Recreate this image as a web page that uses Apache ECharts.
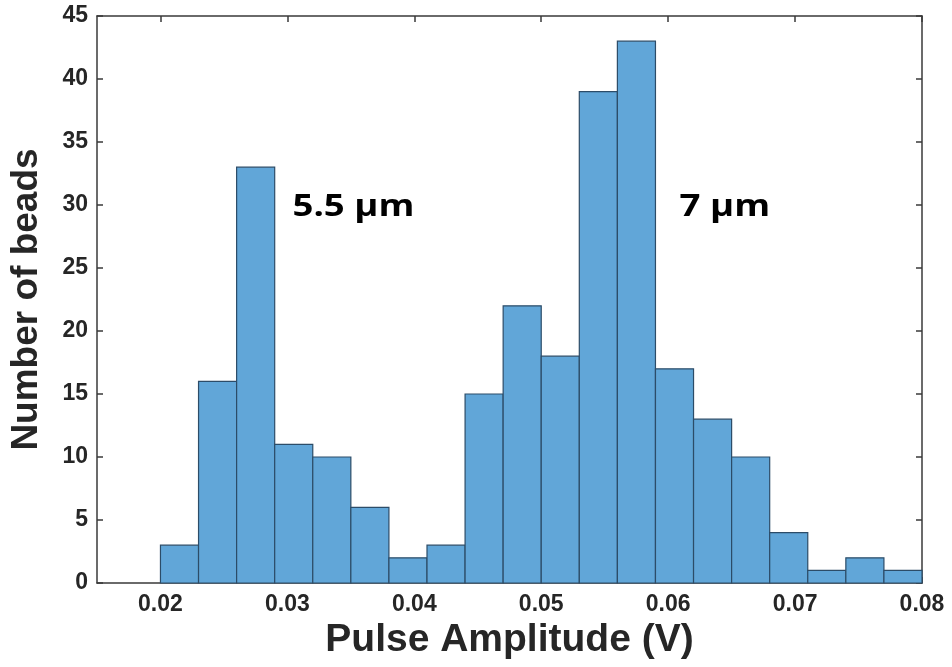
<!DOCTYPE html>
<html>
<head>
<meta charset="utf-8">
<script src="https://cdn.jsdelivr.net/npm/echarts@6/dist/echarts.min.js"></script>
<style>
html,body{margin:0;padding:0;background:#fff;}
#chart{width:952px;height:667px;}
</style>
</head>
<body>
<div id="chart"></div>
<script>
// Histogram bin edges (V) and counts
var binEdges = [0.020,0.023,0.026,0.029,0.032,0.035,0.038,0.041,0.044,0.047,0.050,
                0.053,0.056,0.059,0.062,0.065,0.068,0.071,0.074,0.077,0.080];
var counts = [3,16,33,11,10,6,2,3,15,22,18,39,43,17,13,10,4,1,2,1];
var xTicks = [0.02,0.03,0.04,0.05,0.06,0.07,0.08];
var yTicks = [0,5,10,15,20,25,30,35,40,45];
var xTitle = 'Pulse Amplitude (V)';
var yTitle = 'Number of beads';
var annotations = [
  {text:'5.5 µm', x:0.0304, y:29.8},
  {text:'7 µm', x:0.0609, y:29.8}
];

var barData = counts.map(function(c,i){ return [binEdges[i], binEdges[i+1], c]; });

var axisColor = '#3a3a3a';
var labelFont = {fontFamily:'Liberation Sans', fontWeight:'bold', fontSize:23, color:'#262626'};

var chart = echarts.init(document.getElementById('chart'), null, {renderer:'canvas'});
var option = {
  animation:false,
  backgroundColor:'#ffffff',
  grid:{left:97, right:30, top:16, bottom:84, containLabel:false},
  xAxis:[{
    type:'value', position:'bottom', min:0.015, max:0.08,
    axisLine:{show:true, onZero:false, lineStyle:{color:axisColor, width:1.5}},
    axisTick:{show:true, inside:true, length:6, customValues:xTicks, lineStyle:{color:axisColor, width:1.5}},
    axisLabel:Object.assign({margin:10, customValues:xTicks, formatter:function(v){return v.toFixed(2);}}, labelFont),
    splitLine:{show:false},
    name:xTitle, nameLocation:'middle', nameGap:24,
    nameTextStyle:{fontFamily:'Liberation Sans', fontWeight:'bold', fontSize:39, color:'#262626', verticalAlign:'top'}
  },{
    type:'value', position:'top', min:0.015, max:0.08,
    axisLine:{show:true, onZero:false, lineStyle:{color:axisColor, width:1.5}},
    axisTick:{show:true, inside:true, length:6, customValues:xTicks, lineStyle:{color:axisColor, width:1.5}},
    axisLabel:{show:false}, splitLine:{show:false}
  }],
  yAxis:[{
    type:'value', position:'left', min:0, max:45, interval:5,
    axisLine:{show:true, onZero:false, lineStyle:{color:axisColor, width:1.5}},
    axisTick:{show:true, inside:true, length:6, lineStyle:{color:axisColor, width:1.5}},
    axisLabel:Object.assign({margin:9}, labelFont),
    splitLine:{show:false},
    name:yTitle, nameLocation:'middle', nameGap:52, nameRotate:90,
    nameTextStyle:{fontFamily:'Liberation Sans', fontWeight:'bold', fontSize:37, color:'#262626'}
  },{
    type:'value', position:'right', min:0, max:45, interval:5,
    axisLine:{show:true, onZero:false, lineStyle:{color:axisColor, width:1.5}},
    axisTick:{show:true, inside:true, length:6, lineStyle:{color:axisColor, width:1.5}},
    axisLabel:{show:false}, splitLine:{show:false}
  }],
  series:[{
    type:'custom',
    xAxisIndex:0, yAxisIndex:0,
    encode:{x:[0,1], y:2},
    data:barData,
    renderItem:function(params, api){
      var p0 = api.coord([api.value(0), api.value(2)]);
      var p1 = api.coord([api.value(1), 0]);
      return {
        type:'rect',
        shape:{x:p0[0], y:p0[1], width:p1[0]-p0[0], height:p1[1]-p0[1]},
        style:{fill:'#61A6D8', stroke:'#2c4c68', lineWidth:1.2}
      };
    }
  }]
};
chart.setOption(option);

var gfx = annotations.map(function(a){
  var p = chart.convertToPixel({xAxisIndex:0, yAxisIndex:0}, [a.x, a.y]);
  return {
    type:'text', x:p[0], y:p[1], scaleX:1.22, z:100,
    style:{text:a.text, fill:'#000000', font:'bold 30px "Open Sans"', verticalAlign:'middle', align:'left'}
  };
});
chart.setOption({graphic:{elements:gfx}});
</script>
</body>
</html>
